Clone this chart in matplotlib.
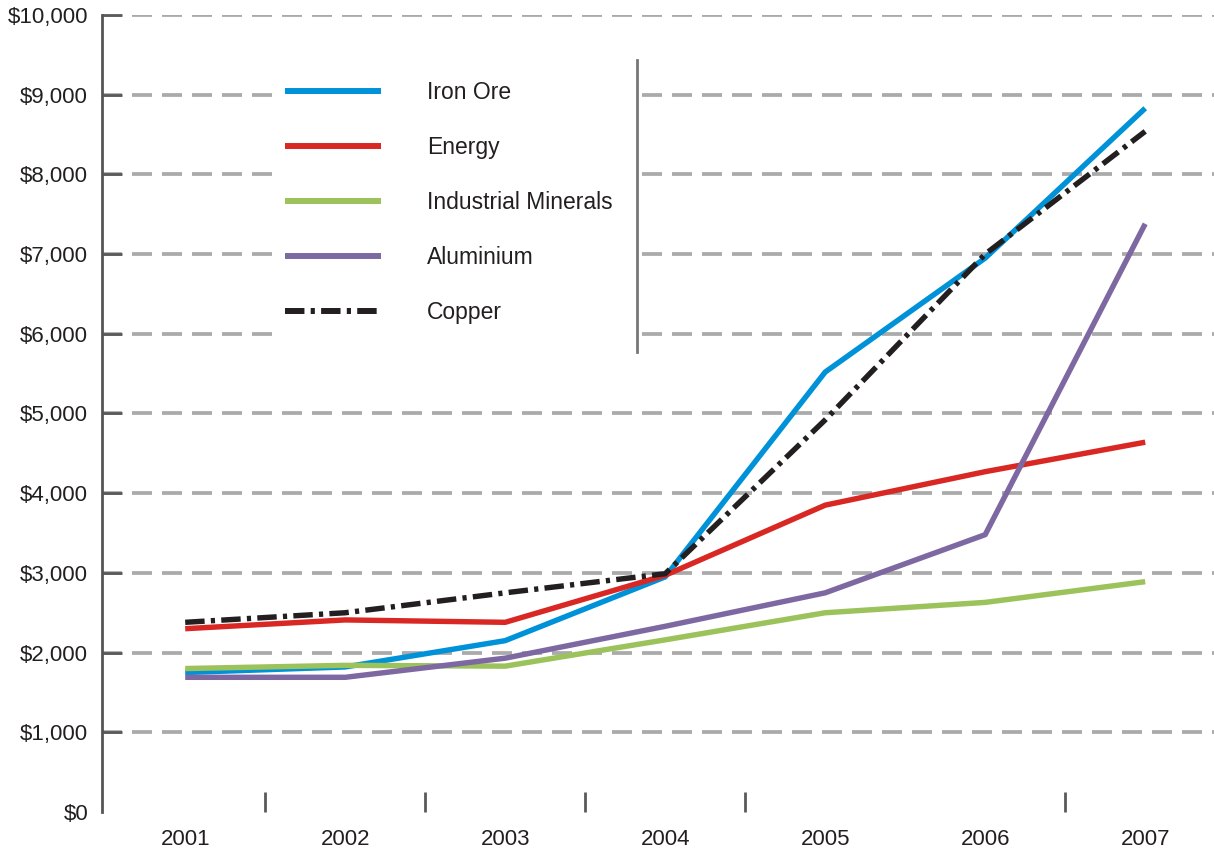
import matplotlib.pyplot as plt
import matplotlib.ticker as mticker
from matplotlib.patches import Rectangle
from matplotlib.lines import Line2D

plt.rcParams['font.family'] = ['Liberation Sans', 'DejaVu Sans']
plt.rcParams['lines.scale_dashes'] = False

# Data
years = ['2001', '2002', '2003', '2004', '2005', '2006', '2007']
iron_ore = [1750, 1820, 2150, 2950, 5520, 6950, 8830]
energy = [2300, 2410, 2380, 2970, 3850, 4270, 4640]
industrial_minerals = [1800, 1840, 1830, 2160, 2500, 2630, 2890]
aluminium = [1690, 1690, 1930, 2330, 2750, 3480, 7380]
copper = [2380, 2500, 2750, 2990, 4920, 7000, 8540]

series = [
    ('Iron Ore', iron_ore, '#0092d9', '-'),
    ('Energy', energy, '#d92724', '-'),
    ('Industrial Minerals', industrial_minerals, '#9cc25b', '-'),
    ('Aluminium', aluminium, '#7e68a2', '-'),
    ('Copper', copper, '#231f20', (0, (14, 4.5, 3, 4.5))),
]

W, H = 1214, 857
fig = plt.figure(figsize=(W / 100, H / 100), dpi=100)
ax = fig.add_axes([102 / W, 1 - 812 / H, 1 - 102 / W, (812 - 15) / H])

x = list(range(len(years)))
for name, vals, color, ls in series:
    ax.plot(x, vals, color=color, lw=3.9, ls=ls, label=name, zorder=3,
            solid_capstyle='butt')

ax.set_xlim(-0.52, 6.43)
ax.set_ylim(0, 10000)

# gridlines (none at $0)
for v in range(1000, 10001, 1000):
    ax.axhline(v, color='#aaaaaa', lw=2.7, ls=(0, (14.4, 7.2)), zorder=1)

ax.set_yticks(range(0, 10001, 1000))
ax.yaxis.set_major_formatter(mticker.FuncFormatter(lambda v, p: f'${int(v):,}'))
ax.tick_params(axis='y', direction='in', length=14.5, width=2, color='#5a5a5a',
               labelsize=16, labelcolor='#231f20', pad=10)
ax.yaxis.get_major_ticks()[0].tick1line.set_visible(False)

ax.set_xticks(x)
ax.set_xticklabels(years)
ax.tick_params(axis='x', length=0, labelsize=16, labelcolor='#231f20', pad=12)
ax.set_xticks([0.5, 1.5, 2.5, 3.5, 5.5], minor=True)
ax.tick_params(axis='x', which='minor', direction='in', length=14.5, width=2,
               color='#5a5a5a')

for s in ['top', 'right', 'bottom']:
    ax.spines[s].set_visible(False)
ax.spines['left'].set_color('#555555')
ax.spines['left'].set_linewidth(2)

# legend area
ax.add_patch(Rectangle((272 / W, 1 - 352 / H), (636 - 272) / W, (352 - 60) / H,
                       transform=fig.transFigure, facecolor='white',
                       edgecolor='none', zorder=2))
ax.add_line(Line2D([637 / W, 637 / W], [1 - 60 / H, 1 - 352 / H],
                   transform=fig.transFigure, color='#777777', lw=2, zorder=2))
leg = ax.legend(loc='upper left', bbox_to_anchor=(285 / W, 1 - 81 / H),
                bbox_transform=fig.transFigure, frameon=False, fontsize=16.5,
                handlelength=4.2, handletextpad=2.0, labelspacing=1.4,
                borderpad=0, borderaxespad=0)
leg.set_zorder(5)
for h in leg.get_lines():
    h.set_linewidth(4.3)
for t in leg.get_texts():
    t.set_color('#231f20')

plt.savefig('out.png', dpi=100)
